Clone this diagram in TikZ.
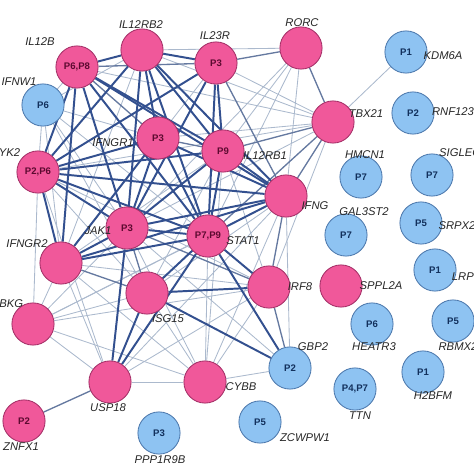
\documentclass[tikz,border=0pt]{standalone}
\usepackage{fontspec}
\setmainfont{Liberation Sans}
\usepackage{xcolor}
\usepackage{tikz}
\usetikzlibrary{backgrounds}
\definecolor{gnPink}{HTML}{F0589A}
\definecolor{gnPinkLine}{HTML}{A32E66}
\definecolor{gnPinkText}{HTML}{5C0A30}
\definecolor{gnBlue}{HTML}{8EC3F2}
\definecolor{gnBlueLine}{HTML}{4C78AC}
\definecolor{gnBlueText}{HTML}{12305C}
\definecolor{edStrong}{HTML}{33508F}
\definecolor{edMid}{HTML}{6579A0}
\definecolor{edWeak}{HTML}{ABB9CD}
\tikzset{
  gene/.style={circle, line width=0.6pt, minimum size=30, inner sep=0pt,
    font=\fontsize{6.8}{7}\selectfont\bfseries},
  hit/.style={gene, draw=gnPinkLine, fill=gnPink, text=gnPinkText},
  miss/.style={gene, draw=gnBlueLine, fill=gnBlue, text=gnBlueText},
  lbl/.style={font=\fontsize{8}{9}\selectfont\itshape, inner sep=0pt, text=black!85},
  strong/.style={edStrong, line width=1.4pt},
  mid/.style={edMid, line width=0.95pt},
  weak/.style={edWeak, line width=0.6pt},
}

\begin{document}
\begin{tikzpicture}[x=0.025cm, y=-0.025cm]
\useasboundingbox (0,0) rectangle (474,474);
% genes with a hit
\foreach \n/\x/\y/\p in {il12b/77/67/{P6,P8}, il12rb2/142/50/{}, il23r/216/63/P3, rorc/301/48/{},
  tbx21/333/122/{}, ifngr1/158/138/P3, il12rb1/223/151/P9, tyk2/38/172/{P2,P6}, ifng/286/196/{},
  jak1/127/228/P3, stat1/208/236/{P7,P9}, ifngr2/61/263/{}, isg15/147/293/{}, irf8/269/287/{},
  ikbkg/33/324/{}, sppl2a/341/286/{}, usp18/110/382/{}, cybb/205/382/{}, znfx1/24/421/P2}
  \node[hit] (\n) at (\x,\y) {\p};
% genes without one
\foreach \n/\x/\y/\p in {ifnw1/43/105/P6, kdm6a/406/52/P1, rnf123/413/113/P2, hmcn1/361/177/P7,
  siglec/432/175/P7, gal3st2/346/235/P7, srpx2/421/223/P5, lrp/435/270/P1, heatr3/372/324/P6,
  rbmx/453/321/P5, gbp2/290/368/P2, h2bfm/423/372/P1, ttn/355/389/{P4,P7}, zcwpw1/260/422/P5,
  ppp1r9b/159/433/P3}
  \node[miss] (\n) at (\x,\y) {\p};
% gene names
\foreach \x/\y/\t in {40/42/IL12B, 141/25/IL12RB2, 215/36/IL23R, 302/23/RORC, 366/114/TBX21,
  113/143/IFNGR1, 265/156/IL12RB1, 6/153/TYK2, 315/206/IFNG, 98/231/JAK1, 243/241/STAT1,
  27/244/IFNGR2, 168/319/ISG15, 300/287/IRF8, 6/304/IKBKG, 381/286/SPPL2A, 108/408/USP18,
  241/387/CYBB, 21/447/ZNFX1, 19/82/IFNW1, 443/56/KDM6A, 453/112/RNF123, 365/155/HMCN1,
  463/153/SIGLEC1, 364/212/GAL3ST2, 457/226/SRPX2, 466/277/LRP1, 374/347/HEATR3, 458/347/RBMX2,
  313/347/GBP2, 433/396/H2BFM, 360/416/TTN, 305/438/ZCWPW1, 160/460/PPP1R9B}
  \node[lbl] (t-\t) at (\x,\y) {\t};
\begin{scope}[on background layer]
\foreach \u/\v in {ifnw1/il12b, ifnw1/tyk2, ifnw1/il12rb2, ifnw1/ifngr1, ifnw1/jak1, ifnw1/stat1,
  ifnw1/ifngr2, ifnw1/isg15, kdm6a/tbx21, rorc/il12rb2, rorc/stat1, rorc/jak1, rorc/il12rb1,
  rorc/ifng, tbx21/il12rb2, tbx21/il12b, tbx21/il23r, tbx21/jak1, tbx21/ifngr1, tbx21/tyk2,
  tbx21/irf8, ikbkg/tyk2, ikbkg/ifngr2, ikbkg/jak1, ikbkg/isg15, ikbkg/stat1, ikbkg/irf8,
  ikbkg/usp18, ikbkg/cybb, ikbkg/ifng, cybb/ifngr2, cybb/isg15, cybb/irf8, cybb/ifng, cybb/usp18,
  cybb/gbp2, cybb/jak1, cybb/stat1, cybb/il12rb1, usp18/ifngr2, usp18/irf8, usp18/ifng, usp18/tyk2,
  isg15/ifng, isg15/tyk2, isg15/il12rb1, irf8/ifngr2, irf8/il12rb1, irf8/tyk2, gbp2/ifng,
  gbp2/jak1, ifngr2/il12rb1, ifngr2/il23r, ifngr2/il12rb2}
  \draw[weak] (\u) -- (\v);
\foreach \u/\v in {il23r/rorc, rorc/tbx21, tbx21/ifng, tbx21/stat1, irf8/gbp2, irf8/ifng,
  irf8/jak1, znfx1/usp18, tbx21/il12rb1, il23r/ifng, il12rb1/ifngr1, ifngr2/isg15,
  il12b/ifngr1, il12b/il23r, isg15/jak1}
  \draw[mid] (\u) -- (\v);
\foreach \u/\v in {il12b/il12rb2, il12b/il12rb1, il12b/stat1, il12b/tyk2, il12b/jak1, il12b/ifng,
  il12b/ifngr2, il12rb2/il23r, il12rb2/il12rb1, il12rb2/stat1, il12rb2/jak1, il12rb2/tyk2,
  il12rb2/ifng, il12rb2/ifngr1, il23r/il12rb1, il23r/stat1, il23r/tyk2, il23r/jak1, ifngr1/jak1,
  ifngr1/stat1, ifngr1/ifng, ifngr1/ifngr2, ifngr1/tyk2, tyk2/stat1, tyk2/jak1, tyk2/ifngr2,
  tyk2/il12rb1, tyk2/ifng, jak1/stat1, jak1/ifngr2, jak1/ifng, jak1/il12rb1, stat1/ifng,
  stat1/irf8, stat1/isg15, stat1/ifngr2, stat1/usp18, stat1/il12rb1, stat1/gbp2, ifng/il12rb1,
  ifng/ifngr2, isg15/usp18, isg15/irf8, isg15/gbp2, usp18/jak1}
  \draw[strong] (\u) -- (\v);
\end{scope}
\end{tikzpicture}
\end{document}
